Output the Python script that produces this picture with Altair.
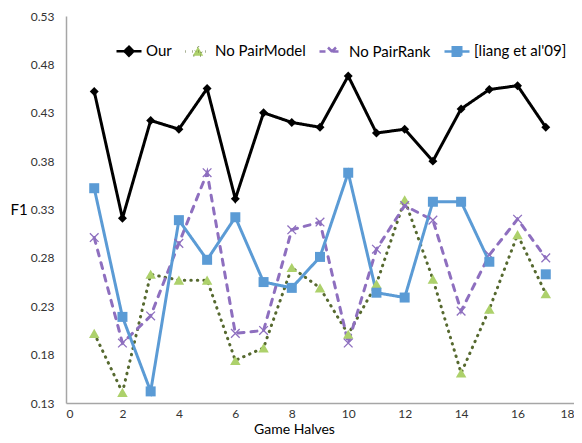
import altair as alt
import pandas as pd

halves = list(range(1, 18))
series_names = ["Our", "No PairModel", "No PairRank", "[liang et al'09]"]
our = [0.452, 0.321, 0.422, 0.413, 0.455, 0.341, 0.430, 0.420, 0.415, 0.468, 0.409, 0.413, 0.380, 0.434, 0.454, 0.458, 0.415]
no_pairmodel = [0.202, 0.141, 0.263, 0.257, 0.257, 0.174, 0.187, 0.270, 0.249, 0.201, 0.253, 0.340, 0.258, 0.161, 0.227, 0.304, 0.243]
no_pairrank = [0.301, 0.192, 0.220, 0.295, 0.368, 0.202, 0.205, 0.309, 0.317, 0.192, 0.289, 0.334, 0.319, 0.225, 0.283, 0.320, 0.280]
liang = [0.352, 0.219, 0.142, 0.319, 0.278, 0.322, 0.255, 0.249, 0.281, 0.368, 0.244, 0.239, 0.338, 0.338, 0.276, None, 0.263]
y_ticks = [0.13, 0.18, 0.23, 0.28, 0.33, 0.38, 0.43, 0.48, 0.53]
x_ticks = list(range(0, 19, 2))

line_colors = ["#000000", "#56692F", "#8E6FBF", "#5B9BD5"]
dashes = [[1, 0], [0.5, 6], [6, 7], [1, 0]]

rows = []
for name, vals in zip(series_names, [our, no_pairmodel, no_pairrank, liang]):
    for x, v in zip(halves, vals):
        rows.append({"half": x, "f1": v, "series": name})
df = pd.DataFrame(rows)

FONT = "Lato"

x_enc = alt.X("half:Q", scale=alt.Scale(domain=[0, 18], nice=False),
              axis=alt.Axis(values=x_ticks, title="Game Halves", grid=False, ticks=False,
                            labelPadding=5, titleX=228, titleY=30, titleBaseline="alphabetic",
                            titleAlign="center", titleFontSize=14, titleFontWeight="normal"))
y_enc = alt.Y("f1:Q", scale=alt.Scale(domain=[0.13, 0.53], nice=False, zero=False),
              axis=alt.Axis(values=y_ticks, format=".2f", title="F1", grid=False, ticks=False,
                            labelPadding=12, titleAngle=0, titleX=-56, titleY=193,
                            titleAlign="left", titleBaseline="middle", titleFontSize=15,
                            titleFontWeight="normal"))

shape_expr = ("datum.value == 'Our' ? 'M-1,0H1M0,-0.36L0.36,0L0,0.36L-0.36,0Z' : "
              "datum.value == 'No PairModel' ? 'M-1,0H1M0,-0.38L0.42,0.34L-0.42,0.34Z' : "
              "datum.value == 'No PairRank' ? 'M-1,0H1M-0.32,-0.32L0.32,0.32M0.32,-0.32L-0.32,0.32' : "
              "'M-1,0H1M-0.34,-0.34H0.34V0.34H-0.34Z'")
fill_expr = ("datum.value == 'Our' ? '#000000' : datum.value == 'No PairModel' ? '#ADD16B' : "
             "datum.value == 'No PairRank' ? 'transparent' : '#5B9BD5'")
stroke_expr = ("datum.value == 'Our' ? '#000000' : datum.value == 'No PairModel' ? '#56692F' : "
               "datum.value == 'No PairRank' ? '#8E6FBF' : '#5B9BD5'")
dash_expr = ("datum.value == 'No PairModel' ? [0.5, 4] : datum.value == 'No PairRank' ? [5, 4] : [1, 0]")

legend = alt.Legend(
    title=None, orient="none", direction="horizontal", legendX=49, legendY=21,
    labelFont=FONT, labelFontSize=15, labelColor="#000000", labelOffset=3,
    columnPadding=8, symbolSize=625, padding=0,
    symbolType=alt.ExprRef(expr=shape_expr),
    symbolFillColor=alt.ExprRef(expr=fill_expr),
    symbolStrokeColor=alt.ExprRef(expr=stroke_expr),
    symbolDash=alt.ExprRef(expr=dash_expr),
    symbolStrokeWidth=2.5, symbolOpacity=1,
)

lines = alt.Chart(df).mark_line(strokeWidth=3, strokeCap="round", invalid="break-paths-show-domains").encode(
    x=x_enc, y=y_enc,
    color=alt.Color("series:N", scale=alt.Scale(domain=series_names, range=line_colors), legend=legend),
    strokeDash=alt.StrokeDash("series:N", scale=alt.Scale(domain=series_names, range=dashes), legend=None),
)

base = alt.Chart(df)
pts_our = base.transform_filter(alt.datum.series == "Our").mark_point(
    shape="diamond", filled=True, color="#000000", size=80, opacity=1).encode(x="half:Q", y="f1:Q")
pts_pm = base.transform_filter(alt.datum.series == "No PairModel").mark_point(
    shape="triangle-up", filled=True, color="#ADD16B", size=110, opacity=1).encode(x="half:Q", y="f1:Q")
pts_pr = base.transform_filter(alt.datum.series == "No PairRank").mark_point(
    shape="M-1,-1L1,1M1,-1L-1,1", filled=False, color="#8E6FBF", size=75, strokeWidth=1.3, opacity=1).encode(x="half:Q", y="f1:Q")
pts_li = base.transform_filter(alt.datum.series == "[liang et al'09]").transform_filter(
    "isValid(datum.f1)").mark_point(
    shape="square", filled=True, color="#5B9BD5", size=100, opacity=1).encode(x="half:Q", y="f1:Q")

chart = alt.layer(lines, pts_our, pts_pm, pts_pr, pts_li).properties(
    width=508, height=387,
    autosize=alt.AutoSizeParams(type="none"),
    padding={"left": 58, "top": 8, "right": 0, "bottom": 32},
).configure_view(stroke=None).configure_axis(
    domainColor="#A6A6A6", domainWidth=1.5, labelFont=FONT, labelFontSize=12,
    labelColor="#333333", titleFont=FONT, titleColor="#000000",
)

chart.save("out.html", embed_options={"renderer": "svg", "actions": False})
